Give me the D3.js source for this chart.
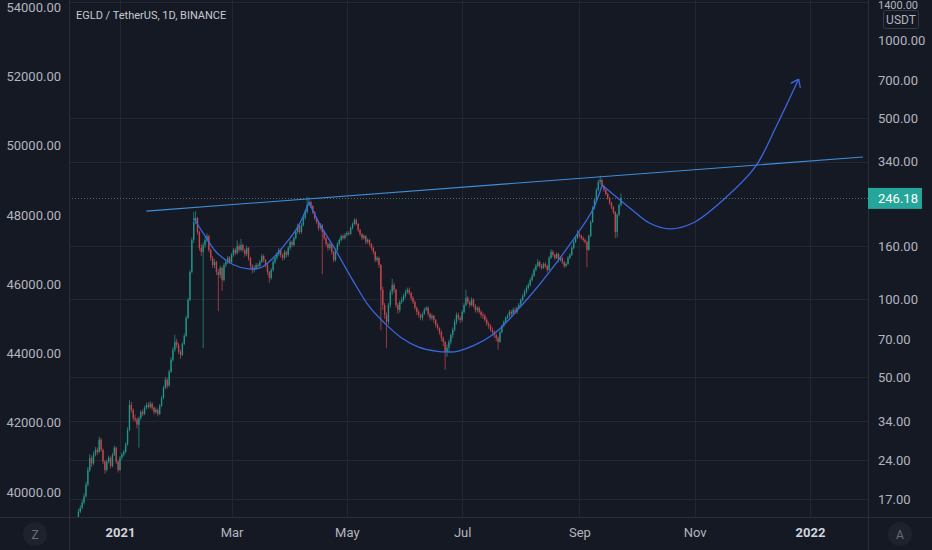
<!DOCTYPE html>
<html>
<head>
<meta charset="utf-8">
<script src="https://cdn.jsdelivr.net/npm/d3@7"></script>
<style>
  html, body { margin: 0; padding: 0; background: #151924; overflow: hidden; }
  text { font-family: Roboto, "Noto Sans", sans-serif; }
</style>
</head>
<body>
<div id="chart"></div>
<script>
// daily candles, first one on 2020-12-10, open of first candle below
const firstDay = "2020-12-10";
const firstOpen = 14.5;

const closes = [
  15.2, 15.7, 16.5, 17.4, 19.3, 22.0, 24.5, 23.3, 25.2, 26.3,
  25.8, 28.8, 26.3, 23.7, 22.0, 23.7, 24.5, 22.8, 25.2, 26.8,
  23.7, 22.0, 24.5, 25.2, 25.8, 27.6, 31.4, 39.2, 37.5, 34.9,
  34.4, 32.9, 34.9, 36.8, 36.2, 38.2, 39.2, 38.5, 39.6, 38.2,
  36.8, 37.5, 36.2, 38.9, 41.7, 45.6, 49.0, 46.5, 52.6, 58.5,
  63.9, 68.6, 66.8, 62.8, 61.1, 67.4, 72.3, 84.9, 99.6, 127.6,
  169.5, 198.8, 205.9, 181.9, 158.0, 152.4, 162.1, 169.5, 175.5, 155.1,
  144.5, 135.7, 139.4, 127.6, 124.3, 132.2, 118.9, 135.7, 139.4, 144.5,
  139.4, 148.4, 155.1, 151.0, 160.7, 155.1, 162.1, 155.1, 149.7, 158.0,
  144.5, 134.5, 129.9, 132.2, 135.7, 134.5, 139.4, 147.1, 141.9, 135.7,
  127.6, 121.0, 129.9, 139.4, 144.5, 149.7, 155.1, 148.4, 144.5, 152.4,
  148.4, 158.0, 166.5, 162.1, 172.5, 181.9, 192.0, 181.9, 193.7, 205.9,
  217.2, 231.1, 237.4, 229.1, 217.2, 205.9, 198.8, 188.5, 193.7, 181.9,
  172.5, 163.5, 158.0, 163.5, 152.4, 141.9, 155.1, 163.5, 169.5, 175.5,
  172.5, 177.2, 180.3, 178.7, 188.5, 195.3, 202.4, 195.3, 185.2, 178.7,
  172.5, 175.5, 166.5, 169.5, 163.5, 158.0, 152.4, 141.9, 144.5, 135.7,
  108.8, 95.2, 87.1, 81.9, 95.2, 106.9, 113.7, 108.8, 95.2, 91.1,
  97.8, 99.6, 103.2, 106.9, 108.8, 106.0, 101.4, 97.8, 92.8, 89.5,
  87.1, 84.9, 88.0, 91.1, 92.8, 88.0, 84.9, 86.4, 83.4, 79.8,
  77.7, 74.9, 71.1, 68.6, 62.8, 65.1, 68.6, 72.9, 76.3, 81.9,
  87.1, 84.9, 83.4, 89.5, 95.2, 101.4, 97.8, 95.2, 99.6, 94.4,
  91.1, 92.8, 89.5, 87.1, 86.4, 83.4, 80.5, 79.1, 76.3, 74.9,
  72.9, 71.1, 68.6, 74.9, 79.1, 81.9, 84.9, 86.4, 89.5, 88.0,
  91.1, 89.5, 92.8, 95.2, 99.6, 103.2, 106.9, 110.8, 113.7, 118.9,
  123.2, 129.9, 134.5, 139.4, 134.5, 132.2, 136.9, 134.5, 129.9, 144.5,
  152.4, 148.4, 144.5, 149.7, 141.9, 144.5, 139.4, 134.5, 136.9, 144.5,
  148.4, 158.0, 166.5, 172.5, 178.7, 175.5, 172.5, 169.5, 166.5, 155.1,
  175.5, 198.8, 224.9, 241.6, 264.0, 283.6, 288.6, 273.4, 264.0, 254.7,
  245.9, 235.3, 226.9, 217.2, 181.9, 212.1, 231.1, 246.18
];

const highs = [
  15.6, 16.1, 16.9, 17.9, 19.8, 22.6, 25.3, 25.0, 25.9, 27.0,
  26.9, 29.6, 29.2, 26.6, 24.0, 24.1, 25.0, 24.8, 25.6, 27.3,
  27.0, 24.0, 24.9, 25.7, 26.3, 28.1, 32.2, 40.9, 40.2, 38.0,
  36.0, 35.0, 35.4, 37.4, 37.6, 38.9, 40.0, 40.2, 40.5, 40.1,
  38.7, 38.3, 38.0, 39.5, 42.5, 46.5, 50.2, 49.8, 53.6, 59.8,
  65.5, 73.0, 70.5, 67.8, 64.0, 68.4, 73.8, 86.5, 101.5, 130,
  173, 217, 219, 208, 184, 163, 166, 173, 180, 177,
  157, 147, 143, 141, 131, 135, 134, 138, 142, 147,
  147, 151, 158, 158, 169, 164, 171, 164, 157, 161,
  159, 146, 137, 135, 138, 138, 142, 150, 149, 143,
  137, 129, 132, 142, 147, 152, 158, 157, 150, 155,
  154, 161, 169, 169, 175, 185, 196, 194, 197, 210,
  222, 249, 247, 240, 231, 219, 208, 201, 197, 195,
  184, 174, 166, 166, 165, 154, 157, 166, 172, 178,
  178, 180, 183, 183, 191, 198, 206, 205, 197, 187,
  180, 178, 177, 172, 171, 165, 160, 154, 147, 146,
  137, 112, 97, 89, 97, 109, 120, 116, 110, 97,
  99, 102, 105, 109, 111, 111, 107, 103, 99, 94,
  91, 88, 89, 93, 94, 94, 89, 88, 87, 84,
  81, 78, 76, 72, 69, 67, 70, 74, 78, 84,
  89, 89, 86, 91, 97, 109, 103, 99, 102, 101,
  96, 94, 94, 91, 89, 88, 85, 82, 80, 78,
  76, 74, 72, 76, 80, 83, 86, 88, 91, 91,
  93, 93, 94, 97, 101, 105, 109, 113, 116, 121,
  126, 132, 137, 143, 141, 137, 139, 139, 136, 147,
  156, 155, 150, 152, 151, 147, 146, 141, 139, 147,
  151, 161, 170, 176, 185, 182, 178, 175, 172, 168,
  178, 202, 229, 246, 269, 289, 300, 292, 277, 267,
  258, 248, 238, 229, 219, 215, 234, 256
];

const lows = [
  14.3, 15.0, 15.5, 16.2, 17.2, 19.0, 21.6, 22.6, 23.0, 24.8,
  25.1, 25.5, 25.9, 23.2, 21.3, 21.7, 23.3, 22.3, 22.5, 24.9,
  23.2, 21.5, 21.8, 24.1, 24.8, 25.5, 27.3, 31.0, 36.6, 34.0,
  33.6, 31.8, 26.8, 34.3, 35.5, 35.8, 37.6, 37.9, 38.0, 37.4,
  36.0, 36.2, 35.4, 35.8, 38.5, 41.2, 45.0, 45.3, 46.0, 52.0,
  57.6, 62.8, 65.0, 61.5, 59.0, 60.5, 66.6, 71.5, 84.0, 98.5,
  126, 165, 195, 178, 154, 147, 65, 158, 166, 152,
  141, 132, 132, 124, 90, 121, 108, 117, 133, 137,
  137, 137, 146, 148, 149, 152, 153, 152, 146, 147,
  141, 131, 126, 127, 130, 132, 133, 138, 139, 133,
  124, 116, 119, 128, 137, 142, 147, 145, 141, 142,
  145, 146, 155, 159, 160, 170, 179, 178, 179, 191,
  203, 214, 228, 225, 213, 202, 195, 184, 185, 125,
  169, 160, 154, 155, 149, 139, 140, 153, 161, 167,
  170, 170, 175, 176, 177, 186, 193, 193, 182, 175,
  169, 170, 163, 164, 160, 155, 149, 139, 139, 132,
  76, 91, 84, 65, 80, 93, 104, 106, 93, 88,
  89, 96, 98, 101, 105, 104, 99, 96, 91, 87,
  85, 83, 83, 87, 90, 86, 83, 83, 81, 78,
  76, 73, 69, 66, 53.5, 60, 63, 67, 71, 75,
  80, 83, 81, 82, 88, 94, 96, 93, 94, 93,
  89, 89, 88, 85, 84, 82, 79, 77, 75, 73,
  71, 69, 64, 68, 74, 78, 81, 84, 85, 86,
  87, 88, 88, 92, 94, 98, 102, 105, 109, 112,
  117, 122, 128, 133, 132, 130, 131, 132, 127, 129,
  143, 146, 142, 143, 139, 140, 137, 132, 133, 136,
  143, 147, 156, 165, 171, 173, 170, 167, 164, 133,
  154, 174, 197, 222, 239, 261, 277, 270, 260, 251,
  242, 231, 223, 213, 172, 173, 209, 228
];

// axis tick labels
const rightTicks = [1000, 700, 500, 340, 160, 100, 70, 50, 34, 24, 17];
const topTick = 1400;
const gridPrices = [1400, 500, 340, 160, 100, 50, 34, 24, 17];
const leftTicks = [54000, 52000, 50000, 48000, 46000, 44000, 42000, 40000];
const timeTicks = [
  ["2021-01-01", "2021"], ["2021-03-01", "Mar"], ["2021-05-01", "May"],
  ["2021-07-01", "Jul"], ["2021-09-01", "Sep"], ["2021-11-01", "Nov"],
  ["2022-01-01", "2022"]
];
const lastPrice = 246.18;

// drawings on the chart: [date, price]
const trendLine = [["2021-01-15", 219], ["2022-01-29", 354]];
const cupSmall = [
  ["2021-02-09", 206], ["2021-02-14", 180], ["2021-02-21", 152], ["2021-03-02", 136],
  ["2021-03-10", 131], ["2021-03-17", 133], ["2021-03-23", 144.5], ["2021-03-29", 162],
  ["2021-04-05", 190], ["2021-04-11", 237]
];
const cupBig = [
  ["2021-04-11", 237], ["2021-04-16", 199], ["2021-04-25", 155], ["2021-05-04", 119],
  ["2021-05-13", 93.5], ["2021-05-22", 79.7], ["2021-05-30", 71], ["2021-06-08", 65.5],
  ["2021-06-17", 63.2], ["2021-06-23", 62.7], ["2021-06-29", 63.2], ["2021-07-17", 72.9],
  ["2021-08-04", 99.5], ["2021-08-21", 142], ["2021-09-08", 221], ["2021-09-13", 276]
];
const handle = [
  ["2021-09-13", 276], ["2021-09-29", 221], ["2021-10-08", 197], ["2021-10-19", 187],
  ["2021-10-31", 197], ["2021-11-16", 241.6], ["2021-12-03", 324], ["2021-12-14", 462],
  ["2021-12-26", 707]
];

let width = 932, height = 550;
let plot = { left: 69, right: 868, top: 0, bottom: 517 };

const parse = d3.utcParse("%Y-%m-%d");
const start = parse(firstDay);

let data = closes.map((c, i) => ({
  date: d3.utcDay.offset(start, i),
  open: i === 0 ? firstOpen : closes[i - 1],
  close: c,
  high: highs[i],
  low: lows[i]
}));

let svg = d3.select("#chart")
  .append("svg")
  .attr("width", width)
  .attr("height", height)
  .style("display", "block");

svg.append("rect")
  .attr("width", width)
  .attr("height", height)
  .attr("fill", "#151924");

let xscale = d3.scaleUtc()
  .domain([parse("2021-01-01"), parse("2022-01-01")])
  .range([120, 810]);

let yscale = d3.scaleLog()
  .domain([1000, 17])
  .range([40, 499]);

let yleft = d3.scaleLinear()
  .domain([54000, 40000])
  .range([7, 492]);

svg.append("clipPath")
  .attr("id", "plotclip")
  .append("rect")
  .attr("x", plot.left)
  .attr("y", plot.top)
  .attr("width", plot.right - plot.left)
  .attr("height", plot.bottom - plot.top);

// grid
let grid = svg.append("g").attr("clip-path", "url(#plotclip)");

grid.selectAll(".hgrid")
  .data(gridPrices)
  .join("line")
  .attr("x1", plot.left)
  .attr("x2", plot.right)
  .attr("y1", d => Math.round(yscale(d)) + 0.5)
  .attr("y2", d => Math.round(yscale(d)) + 0.5)
  .attr("stroke", "#232734")
  .attr("stroke-width", 1);

grid.selectAll(".vgrid")
  .data(timeTicks)
  .join("line")
  .attr("x1", d => Math.round(xscale(parse(d[0]))) + 0.5)
  .attr("x2", d => Math.round(xscale(parse(d[0]))) + 0.5)
  .attr("y1", plot.top)
  .attr("y2", plot.bottom)
  .attr("stroke", "#232734")
  .attr("stroke-width", 1);

// last price dotted line
svg.append("line")
  .attr("x1", plot.left)
  .attr("x2", plot.right)
  .attr("y1", Math.round(yscale(lastPrice)) + 0.5)
  .attr("y2", Math.round(yscale(lastPrice)) + 0.5)
  .attr("stroke", "#4b6b70")
  .attr("stroke-dasharray", "1,2");

// candles
let candles = svg.append("g").attr("clip-path", "url(#plotclip)");
const up = "#23998d", down = "#c9494f";

candles.selectAll(".wick")
  .data(data)
  .join("line")
  .attr("x1", d => xscale(d.date))
  .attr("x2", d => xscale(d.date))
  .attr("y1", d => yscale(d.high))
  .attr("y2", d => yscale(d.low))
  .attr("stroke", d => d.close >= d.open ? up : down)
  .attr("stroke-width", 0.8)
  .attr("opacity", 0.9);

candles.selectAll(".body")
  .data(data)
  .join("rect")
  .attr("x", d => xscale(d.date) - 0.7)
  .attr("width", 1.4)
  .attr("y", d => yscale(Math.max(d.open, d.close)))
  .attr("height", d => Math.max(0.8, yscale(Math.min(d.open, d.close)) - yscale(Math.max(d.open, d.close))))
  .attr("fill", d => d.close >= d.open ? up : down)
  .attr("opacity", 0.9);

// drawings
let draw = svg.append("g").attr("clip-path", "url(#plotclip)");
let pt = d => [xscale(parse(d[0])), yscale(d[1])];

draw.append("path")
  .attr("d", d3.line()(trendLine.map(pt)))
  .attr("fill", "none")
  .attr("stroke", "#3d8fdc")
  .attr("stroke-width", 1.1);

let curve = d3.line().curve(d3.curveCatmullRom.alpha(0.5));
[cupSmall, cupBig, handle].forEach(pts => {
  draw.append("path")
    .attr("d", curve(pts.map(pt)))
    .attr("fill", "none")
    .attr("stroke", "#3b68e0")
    .attr("stroke-width", 1.3);
});

// arrow head at the end of the handle
let tip = pt(handle[handle.length - 1]);
let prev = pt(handle[handle.length - 2]);
let ang = Math.atan2(tip[1] - prev[1], tip[0] - prev[0]);
[ang + Math.PI * 0.8, ang - Math.PI * 0.8].forEach(a => {
  draw.append("line")
    .attr("x1", tip[0])
    .attr("y1", tip[1])
    .attr("x2", tip[0] + 9 * Math.cos(a))
    .attr("y2", tip[1] + 9 * Math.sin(a))
    .attr("stroke", "#3b68e0")
    .attr("stroke-width", 1.3);
});

// frame lines
svg.append("line")
  .attr("x1", plot.left + 0.5).attr("x2", plot.left + 0.5)
  .attr("y1", 0).attr("y2", height)
  .attr("stroke", "#2a2e39");
svg.append("line")
  .attr("x1", plot.right + 0.5).attr("x2", plot.right + 0.5)
  .attr("y1", 0).attr("y2", height)
  .attr("stroke", "#2a2e39");
svg.append("line")
  .attr("x1", 0).attr("x2", width)
  .attr("y1", plot.bottom + 0.5).attr("y2", plot.bottom + 0.5)
  .attr("stroke", "#2a2e39");

// right axis
let raxis = svg.append("g")
  .attr("transform", `translate(${plot.right},0)`)
  .call(d3.axisRight(yscale).tickValues(rightTicks).tickSize(0).tickPadding(10).tickFormat(d3.format(".2f")));
raxis.select(".domain").remove();
raxis.selectAll("text")
  .attr("fill", "#b2b5be")
  .style("font-size", "13px");

// top label sits at the very edge, kept just inside the picture
svg.append("text")
  .attr("x", plot.right + 10)
  .attr("y", 9)
  .attr("fill", "#b2b5be")
  .style("font-size", "11px")
  .text(d3.format(".2f")(topTick));

// left axis
let laxis = svg.append("g")
  .attr("transform", `translate(${plot.left},0)`)
  .call(d3.axisLeft(yleft).tickValues(leftTicks).tickSize(0).tickPadding(8).tickFormat(d3.format(".2f")));
laxis.select(".domain").remove();
laxis.selectAll("text")
  .attr("fill", "#b2b5be")
  .style("font-size", "13px");

// bottom axis
let baxis = svg.append("g")
  .attr("transform", `translate(0,${plot.bottom})`)
  .call(d3.axisBottom(xscale)
    .tickValues(timeTicks.map(d => parse(d[0])))
    .tickSize(0)
    .tickPadding(11)
    .tickFormat((d, i) => timeTicks[i][1]));
baxis.select(".domain").remove();
baxis.selectAll("text")
  .attr("fill", (d, i) => isNaN(+timeTicks[i][1]) ? "#b2b5be" : "#d1d4dc")
  .style("font-size", "13px")
  .style("font-weight", (d, i) => isNaN(+timeTicks[i][1]) ? 400 : 700);

// USDT box
svg.append("rect")
  .attr("x", 883.5).attr("y", 10.5)
  .attr("width", 35).attr("height", 18)
  .attr("rx", 2)
  .attr("fill", "#151924")
  .attr("stroke", "#363a45");
svg.append("text")
  .attr("x", 901).attr("y", 24)
  .attr("text-anchor", "middle")
  .attr("fill", "#b2b5be")
  .style("font-size", "12px")
  .text("USDT");

// last price label
svg.append("rect")
  .attr("x", plot.right)
  .attr("y", yscale(lastPrice) - 10)
  .attr("width", 54)
  .attr("height", 21)
  .attr("fill", "#26a69a");
svg.append("text")
  .attr("x", plot.right + 10)
  .attr("y", yscale(lastPrice) + 5)
  .attr("fill", "#ffffff")
  .style("font-size", "13px")
  .text(lastPrice.toFixed(2));

// title
svg.append("text")
  .attr("x", 76)
  .attr("y", 19)
  .attr("fill", "#c8cad0")
  .style("font-size", "11px")
  .text("EGLD / TetherUS, 1D, BINANCE");

// corner buttons
[["Z", 35], ["A", 900]].forEach(b => {
  svg.append("circle")
    .attr("cx", b[1]).attr("cy", 534)
    .attr("r", 12)
    .attr("fill", "#1e222d");
  svg.append("text")
    .attr("x", b[1]).attr("y", 538.5)
    .attr("text-anchor", "middle")
    .attr("fill", "#6a6d78")
    .style("font-size", "12px")
    .text(b[0]);
});
</script>
</body>
</html>
